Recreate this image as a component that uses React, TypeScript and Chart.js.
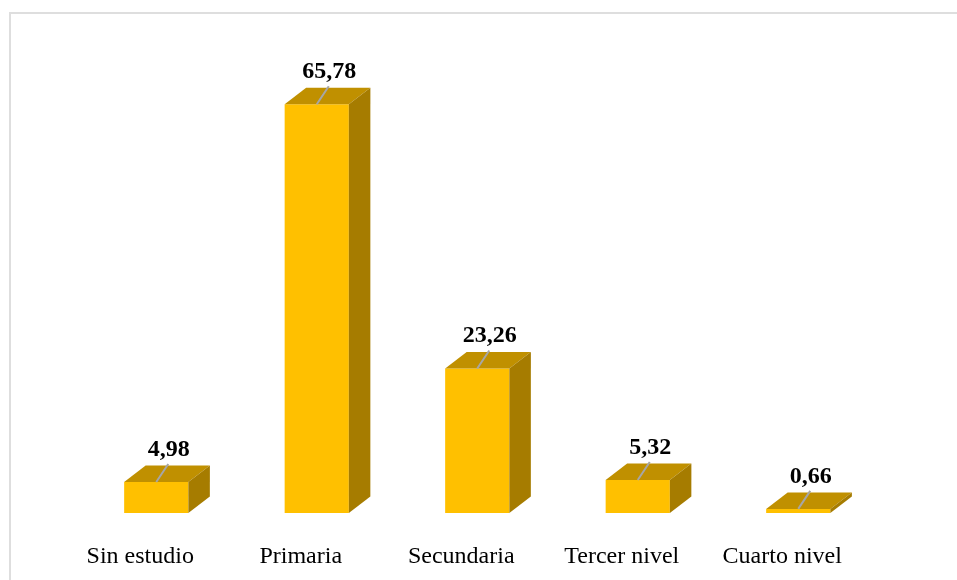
import React, { useEffect, useRef } from "react";
import { Chart, registerables } from "chart.js";

Chart.register(...registerables);

const categories = ["Sin estudio", "Primaria", "Secundaria", "Tercer nivel", "Cuarto nivel"];
const values = [4.98, 65.78, 23.26, 5.32, 0.66];
const valueLabels = ["4,98", "65,78", "23,26", "5,32", "0,66"];

const FRONT = "#FFC000";
const TOP = "#C09000";
const SIDE = "#A67C00";
const LEADER = "#A6A6A6";
const DEPTH_X = 21.5;
const DEPTH_Y = 16.5;

const bars3d = {
  id: "bars3d",
  afterDatasetsDraw(chart: any) {
    const { ctx } = chart;
    const meta = chart.getDatasetMeta(0);
    meta.data.forEach((bar: any, i: number) => {
      const half = bar.width / 2;
      const l = bar.x - half;
      const r = bar.x + half;
      const t = bar.y;
      const b = bar.base;
      ctx.save();
      ctx.fillStyle = TOP;
      ctx.beginPath();
      ctx.moveTo(l, t);
      ctx.lineTo(l + DEPTH_X, t - DEPTH_Y);
      ctx.lineTo(r + DEPTH_X, t - DEPTH_Y);
      ctx.lineTo(r, t);
      ctx.closePath();
      ctx.fill();
      ctx.fillStyle = SIDE;
      ctx.beginPath();
      ctx.moveTo(r, t);
      ctx.lineTo(r + DEPTH_X, t - DEPTH_Y);
      ctx.lineTo(r + DEPTH_X, b - DEPTH_Y);
      ctx.lineTo(r, b);
      ctx.closePath();
      ctx.fill();
      ctx.strokeStyle = LEADER;
      ctx.lineWidth = 2;
      ctx.beginPath();
      ctx.moveTo(bar.x, t);
      ctx.lineTo(bar.x + 12, t - 18);
      ctx.stroke();
      ctx.fillStyle = "#000000";
      ctx.font = "bold 24px 'Liberation Serif'";
      ctx.textAlign = "center";
      ctx.textBaseline = "alphabetic";
      ctx.fillText(valueLabels[i], bar.x + 12.5, t - 26);
      ctx.restore();
    });
  },
};

export default function App() {
  const ref = useRef<HTMLCanvasElement>(null);
  useEffect(() => {
    const chart = new Chart(ref.current!, {
      type: "bar",
      data: {
        labels: categories,
        datasets: [
          {
            data: values,
            backgroundColor: FRONT,
            borderWidth: 0,
            barPercentage: 0.4,
            categoryPercentage: 1,
          },
        ],
      },
      options: {
        responsive: false,
        animation: false,
        events: [],
        layout: { padding: { left: 76, right: 78.5, top: 78, bottom: 0 } },
        plugins: { legend: { display: false }, tooltip: { enabled: false } },
        scales: {
          y: { display: false, min: 0, max: 70 },
          x: {
            afterFit(scale: any) {
              scale.height = 67;
            },
            border: { display: false },
            grid: { display: false, drawTicks: false },
            ticks: {
              color: "#000000",
              font: { family: "'Liberation Serif'", size: 24 },
              padding: 29,
              labelOffset: -16,
              maxRotation: 0,
            },
          },
        },
      },
      plugins: [bars3d],
    });
    return () => chart.destroy();
  }, []);
  return (
    <div style={{ position: "fixed", left: 0, top: 0, width: 957, height: 580, overflow: "hidden", background: "#fff" }}>
      <canvas ref={ref} width={957} height={580} style={{ display: "block" }} />
      <div
        style={{
          position: "absolute",
          left: 9,
          top: 12,
          right: 0,
          bottom: 0,
          borderTop: "2px solid #DEDEDE",
          borderLeft: "2px solid #DEDEDE",
        }}
      />
    </div>
  );
}
